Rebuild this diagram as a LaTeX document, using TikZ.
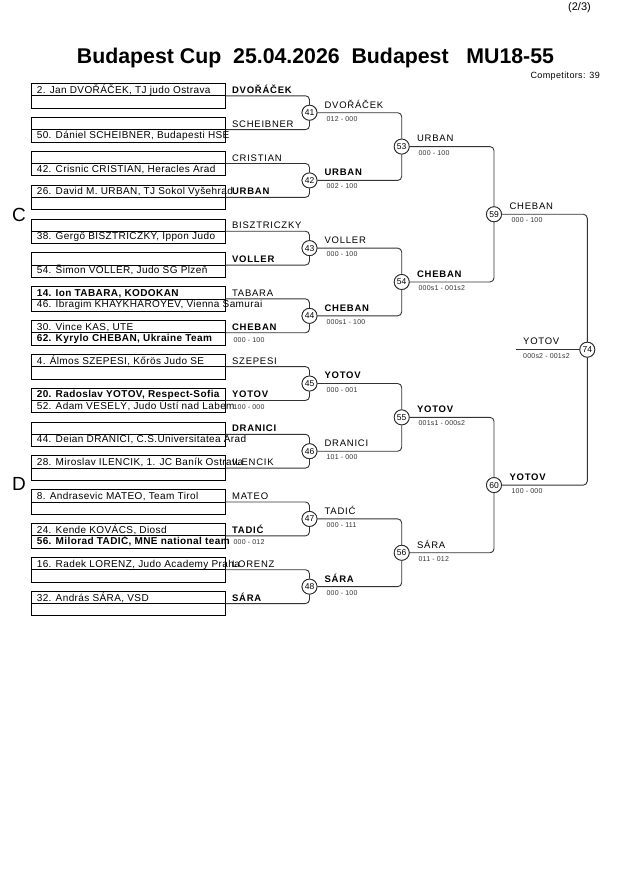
\documentclass[tikz,border=0pt]{standalone}
\usepackage{fontspec}
\setmainfont{Liberation Sans}
\newfontfamily\nmfont[LetterSpace=4]{Liberation Sans}
\newfontfamily\lbfont[LetterSpace=8]{Liberation Sans}
\newfontfamily\scfont[LetterSpace=3]{Liberation Sans}
\usetikzlibrary{calc}
\tikzset{
  box/.style={draw=black, line width=0.8pt, minimum width=193.5pt, minimum height=24.6pt, inner sep=0pt, anchor=center},
  divline/.style={draw=black, line width=0.8pt},
  conn/.style={draw=black!80, line width=0.9pt, rounded corners=4pt},
  mc/.style={circle, draw=black!85, line width=0.8pt, fill=white, minimum size=15pt, inner sep=0pt, font=\fontsize{8.5}{9}\selectfont},
  nm/.style={anchor=base west, inner sep=0pt, font=\nmfont\fontsize{10}{11}\selectfont},
  nmb/.style={anchor=base west, inner sep=0pt, font=\nmfont\bfseries\fontsize{10}{11}\selectfont},
  lb/.style={anchor=base west, inner sep=0pt, font=\lbfont\fontsize{9.5}{11}\selectfont},
  lbb/.style={anchor=base west, inner sep=0pt, font=\lbfont\bfseries\fontsize{9.5}{11}\selectfont},
  sc/.style={anchor=base west, inner sep=0pt, text=black!80, font=\scfont\fontsize{7}{8}\selectfont},
}
\begin{document}
\begin{tikzpicture}[x=1pt,y=-1pt]
\useasboundingbox (0,0) rectangle (630,891);
% header
\node[anchor=east, inner sep=0pt, font=\fontsize{11}{13}\selectfont] (page) at (591,8) {(2/3)};
\node[inner sep=0pt, font=\bfseries\fontsize{21.3}{25}\selectfont] (title) at (315.5,58) {Budapest Cup\ \ 25.04.2026\ \ Budapest\ \ \ MU18-55};
\node[anchor=east, inner sep=0pt, font=\nmfont\fontsize{9}{10}\selectfont] (comp) at (600,76) {Competitors: 39};
\node[inner sep=0pt, font=\fontsize{19}{20}\selectfont] (poolC) at (19,214.5) {C};
\node[inner sep=0pt, font=\fontsize{19}{20}\selectfont] (poolD) at (19,484) {D};

% boxes
\node[box] (b1) at (128.25,95.8) {};
\node[box] (b2) at (128.25,129.65) {};
\node[box] (b3) at (128.25,163.5) {};
\node[box] (b4) at (128.25,197.35) {};
\node[box] (b5) at (128.25,231.2) {};
\node[box] (b6) at (128.25,265.05) {};
\node[box] (b7) at (128.25,298.9) {};
\node[box] (b8) at (128.25,332.75) {};
\node[box] (b9) at (128.25,366.6) {};
\node[box] (b10) at (128.25,400.45) {};
\node[box] (b11) at (128.25,434.3) {};
\node[box] (b12) at (128.25,468.15) {};
\node[box] (b13) at (128.25,502.0) {};
\node[box] (b14) at (128.25,535.85) {};
\node[box] (b15) at (128.25,569.7) {};
\node[box] (b16) at (128.25,603.55) {};
\foreach \k in {1,...,16} { \draw[divline] (b\k.west) -- (b\k.east); }

% competitor names (top row: yshift=2.5pt, bottom row: yshift=-8.6pt)
\node[nm] (n1) at ([xshift=5.5pt,yshift=2.5pt]b1.west) {2. Jan DVOŘÁČEK, TJ judo Ostrava};
\node[nm] (n2) at ([xshift=5.5pt,yshift=-8.6pt]b2.west) {50. Dániel SCHEIBNER, Budapesti HSE};
\node[nm] (n3) at ([xshift=5.5pt,yshift=-8.6pt]b3.west) {42. Crisnic CRISTIAN, Heracles Arad};
\node[nm] (n4) at ([xshift=5.5pt,yshift=2.5pt]b4.west) {26. David M. URBAN, TJ Sokol Vyšehrad};
\node[nm] (n5) at ([xshift=5.5pt,yshift=-8.6pt]b5.west) {38. Gergő BISZTRICZKY, Ippon Judo};
\node[nm] (n6) at ([xshift=5.5pt,yshift=-8.6pt]b6.west) {54. Šimon VOLLER, Judo SG Plzeň};
\node[nmb] (n7a) at ([xshift=5.5pt,yshift=2.5pt]b7.west) {14. Ion TABARA, KODOKAN};
\node[nm] (n7b) at ([xshift=5.5pt,yshift=-8.6pt]b7.west) {46. Ibragim KHAYKHAROYEV, Vienna Samurai};
\node[nm] (n8a) at ([xshift=5.5pt,yshift=2.5pt]b8.west) {30. Vince KAS, UTE};
\node[nmb] (n8b) at ([xshift=5.5pt,yshift=-8.6pt]b8.west) {62. Kyrylo CHEBAN, Ukraine Team};
\node[nm] (n9) at ([xshift=5.5pt,yshift=2.5pt]b9.west) {4. Álmos SZEPESI, Kőrös Judo SE};
\node[nmb] (n10a) at ([xshift=5.5pt,yshift=2.5pt]b10.west) {20. Radoslav YOTOV, Respect-Sofia};
\node[nm] (n10b) at ([xshift=5.5pt,yshift=-8.6pt]b10.west) {52. Adam VESELÝ, Judo Ústí nad Labem};
\node[nm] (n11) at ([xshift=5.5pt,yshift=-8.6pt]b11.west) {44. Deian DRANICI, C.S.Universitatea Arad};
\node[nm] (n12) at ([xshift=5.5pt,yshift=2.5pt]b12.west) {28. Miroslav ILENCIK, 1. JC Baník Ostrava};
\node[nm] (n13) at ([xshift=5.5pt,yshift=2.5pt]b13.west) {8. Andrasevic MATEO, Team Tirol};
\node[nm] (n14a) at ([xshift=5.5pt,yshift=2.5pt]b14.west) {24. Kende KOVÁCS, Diosd};
\node[nmb] (n14b) at ([xshift=5.5pt,yshift=-8.6pt]b14.west) {56. Milorad TADIĆ, MNE national team};
\node[nm] (n15) at ([xshift=5.5pt,yshift=2.5pt]b15.west) {16. Radek LORENZ, Judo Academy Praha};
\node[nm] (n16) at ([xshift=5.5pt,yshift=2.5pt]b16.west) {32. András SÁRA, VSD};

% circles
\node[mc] (m41) at (309.5,112.725) {41};
\node[mc] (m42) at (309.5,180.425) {42};
\node[mc] (m43) at (309.5,248.125) {43};
\node[mc] (m44) at (309.5,315.825) {44};
\node[mc] (m45) at (309.5,383.525) {45};
\node[mc] (m46) at (309.5,451.225) {46};
\node[mc] (m47) at (309.5,518.925) {47};
\node[mc] (m48) at (309.5,586.625) {48};
\node[mc] (m53) at (401.7,146.575) {53};
\node[mc] (m54) at (401.7,281.975) {54};
\node[mc] (m55) at (401.7,417.375) {55};
\node[mc] (m56) at (401.7,552.775) {56};
\node[mc] (m59) at (494,214.275) {59};
\node[mc] (m60) at (494,485.075) {60};
\node[mc] (m74) at (587.3,349.675) {74};
\coordinate (y74) at (516,349.675);

% connectors
\draw[conn] (b1.east) -| (m41.north);
\draw[conn] (b2.east) -| (m41.south);
\draw[conn] (b3.east) -| (m42.north);
\draw[conn] (b4.east) -| (m42.south);
\draw[conn] (b5.east) -| (m43.north);
\draw[conn] (b6.east) -| (m43.south);
\draw[conn] (b7.east) -| (m44.north);
\draw[conn] (b8.east) -| (m44.south);
\draw[conn] (b9.east) -| (m45.north);
\draw[conn] (b10.east) -| (m45.south);
\draw[conn] (b11.east) -| (m46.north);
\draw[conn] (b12.east) -| (m46.south);
\draw[conn] (b13.east) -| (m47.north);
\draw[conn] (b14.east) -| (m47.south);
\draw[conn] (b15.east) -| (m48.north);
\draw[conn] (b16.east) -| (m48.south);
\draw[conn] (m41.east) -| (m53.north);
\draw[conn] (m42.east) -| (m53.south);
\draw[conn] (m43.east) -| (m54.north);
\draw[conn] (m44.east) -| (m54.south);
\draw[conn] (m45.east) -| (m55.north);
\draw[conn] (m46.east) -| (m55.south);
\draw[conn] (m47.east) -| (m56.north);
\draw[conn] (m48.east) -| (m56.south);
\draw[conn] (m53.east) -| (m59.north);
\draw[conn] (m54.east) -| (m59.south);
\draw[conn] (m55.east) -| (m60.north);
\draw[conn] (m56.east) -| (m60.south);
\draw[conn] (m59.east) -| (m74.north);
\draw[conn] (m60.east) -| (m74.south);
\draw[conn] (y74) -- (m74.west);

% column 1 labels
\node[lbb] (l1) at ([xshift=6.5pt,yshift=2.5pt]b1.east) {DVOŘÁČEK};
\node[lb] (l2) at ([xshift=6.5pt,yshift=2.5pt]b2.east) {SCHEIBNER};
\node[lb] (l3) at ([xshift=6.5pt,yshift=2.5pt]b3.east) {CRISTIAN};
\node[lbb] (l4) at ([xshift=6.5pt,yshift=2.5pt]b4.east) {URBAN};
\node[lb] (l5) at ([xshift=6.5pt,yshift=2.5pt]b5.east) {BISZTRICZKY};
\node[lbb] (l6) at ([xshift=6.5pt,yshift=2.5pt]b6.east) {VOLLER};
\node[lb] (l7) at ([xshift=6.5pt,yshift=2.5pt]b7.east) {TABARA};
\node[lbb] (l8) at ([xshift=6.5pt,yshift=2.5pt]b8.east) {CHEBAN};
\node[lb] (l9) at ([xshift=6.5pt,yshift=2.5pt]b9.east) {SZEPESI};
\node[lbb] (l10) at ([xshift=6.5pt,yshift=2.5pt]b10.east) {YOTOV};
\node[lbb] (l11) at ([xshift=6.5pt,yshift=2.5pt]b11.east) {DRANICI};
\node[lb] (l12) at ([xshift=6.5pt,yshift=2.5pt]b12.east) {ILENCIK};
\node[lb] (l13) at ([xshift=6.5pt,yshift=2.5pt]b13.east) {MATEO};
\node[lbb] (l14) at ([xshift=6.5pt,yshift=2.5pt]b14.east) {TADIĆ};
\node[lb] (l15) at ([xshift=6.5pt,yshift=2.5pt]b15.east) {LORENZ};
\node[lbb] (l16) at ([xshift=6.5pt,yshift=2.5pt]b16.east) {SÁRA};
\node[sc] (s8) at ([xshift=8pt,yshift=-10pt]b8.east) {000 - 100};
\node[sc] (s10) at ([xshift=8pt,yshift=-9pt]b10.east) {100 - 000};
\node[sc] (s14) at ([xshift=8pt,yshift=-9pt]b14.east) {000 - 012};

% column 2 labels
\node[lb] (l41) at ([xshift=7pt,yshift=4.6pt]m41.east) {DVOŘÁČEK};
\node[sc] (s41) at ([xshift=9pt,yshift=-8.5pt]m41.east) {012 - 000};
\node[lbb] (l42) at ([xshift=7pt,yshift=4.6pt]m42.east) {URBAN};
\node[sc] (s42) at ([xshift=9pt,yshift=-8.5pt]m42.east) {002 - 100};
\node[lb] (l43) at ([xshift=7pt,yshift=4.6pt]m43.east) {VOLLER};
\node[sc] (s43) at ([xshift=9pt,yshift=-8.5pt]m43.east) {000 - 100};
\node[lbb] (l44) at ([xshift=7pt,yshift=4.6pt]m44.east) {CHEBAN};
\node[sc] (s44) at ([xshift=9pt,yshift=-8.5pt]m44.east) {000s1 - 100};
\node[lbb] (l45) at ([xshift=7pt,yshift=4.6pt]m45.east) {YOTOV};
\node[sc] (s45) at ([xshift=9pt,yshift=-8.5pt]m45.east) {000 - 001};
\node[lb] (l46) at ([xshift=7pt,yshift=4.6pt]m46.east) {DRANICI};
\node[sc] (s46) at ([xshift=9pt,yshift=-8.5pt]m46.east) {101 - 000};
\node[lb] (l47) at ([xshift=7pt,yshift=4.6pt]m47.east) {TADIĆ};
\node[sc] (s47) at ([xshift=9pt,yshift=-8.5pt]m47.east) {000 - 111};
\node[lbb] (l48) at ([xshift=7pt,yshift=4.6pt]m48.east) {SÁRA};
\node[sc] (s48) at ([xshift=9pt,yshift=-8.5pt]m48.east) {000 - 100};

% column 3 labels
\node[lb] (l53) at ([xshift=7.3pt,yshift=4.6pt]m53.east) {URBAN};
\node[sc] (s53) at ([xshift=8.8pt,yshift=-8.5pt]m53.east) {000 - 100};
\node[lbb] (l54) at ([xshift=7.3pt,yshift=4.6pt]m54.east) {CHEBAN};
\node[sc] (s54) at ([xshift=8.8pt,yshift=-8.5pt]m54.east) {000s1 - 001s2};
\node[lbb] (l55) at ([xshift=7.3pt,yshift=4.6pt]m55.east) {YOTOV};
\node[sc] (s55) at ([xshift=8.8pt,yshift=-8.5pt]m55.east) {001s1 - 000s2};
\node[lb] (l56) at ([xshift=7.3pt,yshift=4.6pt]m56.east) {SÁRA};
\node[sc] (s56) at ([xshift=8.8pt,yshift=-8.5pt]m56.east) {011 - 012};

% column 4 labels
\node[lb] (l59) at ([xshift=7.5pt,yshift=4.6pt]m59.east) {CHEBAN};
\node[sc] (s59) at ([xshift=9.5pt,yshift=-8.5pt]m59.east) {000 - 100};
\node[lbb] (l60) at ([xshift=7.5pt,yshift=4.6pt]m60.east) {YOTOV};
\node[sc] (s60) at ([xshift=9.5pt,yshift=-8.5pt]m60.east) {100 - 000};

% final
\node[lb] (l74) at ([xshift=7pt,yshift=5.6pt]y74) {YOTOV};
\node[sc] (s74) at ([xshift=7pt,yshift=-8.5pt]y74) {000s2 - 001s2};

% redraw circles on top of connectors
\foreach \c in {41,42,43,44,45,46,47,48,53,54,55,56,59,60,74} {
  \node[mc] at (m\c) {\c};
}
\end{tikzpicture}
\end{document}
